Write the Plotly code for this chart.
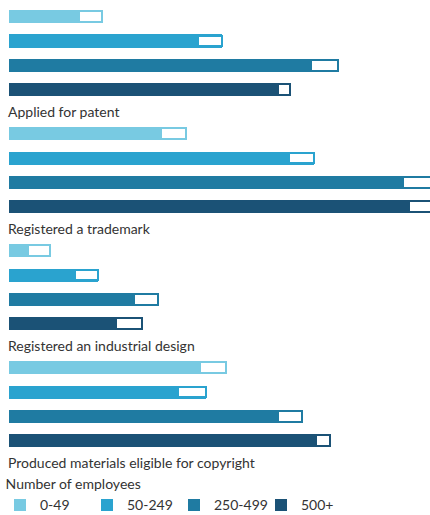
import plotly.graph_objects as go

# ---- data ----
groups = ["Applied for patent", "Registered a trademark",
          "Registered an industrial design", "Produced materials eligible for copyright"]
size_classes = ["0-49", "50-249", "250-499", "500+"]
# estimate (start of white interval box) and upper bound (end of bar), % of firms
est_0_49 = [8.3, 18.1, 2.3, 22.7]
up_0_49 = [11.0, 21.0, 4.9, 25.8]
est_50_249 = [22.5, 33.3, 7.8, 20.1]
up_50_249 = [25.3, 36.2, 10.6, 23.4]
est_250_499 = [35.9, 46.8, 14.9, 32.0]
up_250_499 = [39.1, 51.0, 17.7, 34.8]
est_500 = [32.0, 47.5, 12.7, 36.5]
up_500 = [33.4, 51.5, 15.8, 38.1]

estimates = [est_0_49, est_50_249, est_250_499, est_500]
uppers = [up_0_49, up_50_249, up_250_499, up_500]
colors = ["#78cae2", "#2aa3cf", "#1f7ba2", "#1b5276"]

FONT = "Lato"
TXT = "#333333"
G = 4.815  # group pitch in row units

fig = go.Figure()
for s, name in enumerate(size_classes):
    ys = [g * G + s for g in range(len(groups))]
    fig.add_trace(go.Bar(
        orientation="h", y=ys, x=uppers[s], base=0, width=0.535,
        marker=dict(color=colors[s], line=dict(width=0)),
        name=name, showlegend=True, hoverinfo="skip"))
for s, name in enumerate(size_classes):
    ys = [g * G + s for g in range(len(groups))]
    fig.add_trace(go.Bar(
        orientation="h", y=ys,
        x=[u - e for u, e in zip(uppers[s], estimates[s])],
        base=estimates[s], width=0.45,
        marker=dict(color="white", line=dict(color=colors[s], width=2)),
        showlegend=False, hoverinfo="skip"))

for g, label in enumerate(groups):
    fig.add_annotation(
        x=0, xref="paper", xanchor="left", xshift=6,
        y=g * G + 3.885, yref="y", yanchor="middle",
        text=label, showarrow=False,
        font=dict(family=FONT, size=14, color=TXT))

fig.update_layout(
    width=430, height=515,
    margin=dict(l=0, r=0, t=0, b=0, autoexpand=False),
    paper_bgcolor="white", plot_bgcolor="white",
    barmode="overlay", bargap=0,
    xaxis=dict(range=[-1.069, 50], visible=False, fixedrange=True),
    yaxis=dict(range=[20.506, -0.687], visible=False, fixedrange=True),
    showlegend=True,
    legend=dict(
        orientation="h", xref="paper", yref="paper",
        x=0, xanchor="left", y=-0.012, yanchor="bottom",
        entrywidth=42, entrywidthmode="pixels", itemwidth=30,
        title=dict(text="&nbsp;Number of employees", side="top",
                   font=dict(family=FONT, size=14, color=TXT)),
        font=dict(family=FONT, size=14, color=TXT),
        bgcolor="rgba(0,0,0,0)", traceorder="normal"),
    font=dict(family=FONT, color=TXT),
)

fig.write_html("out.html")
